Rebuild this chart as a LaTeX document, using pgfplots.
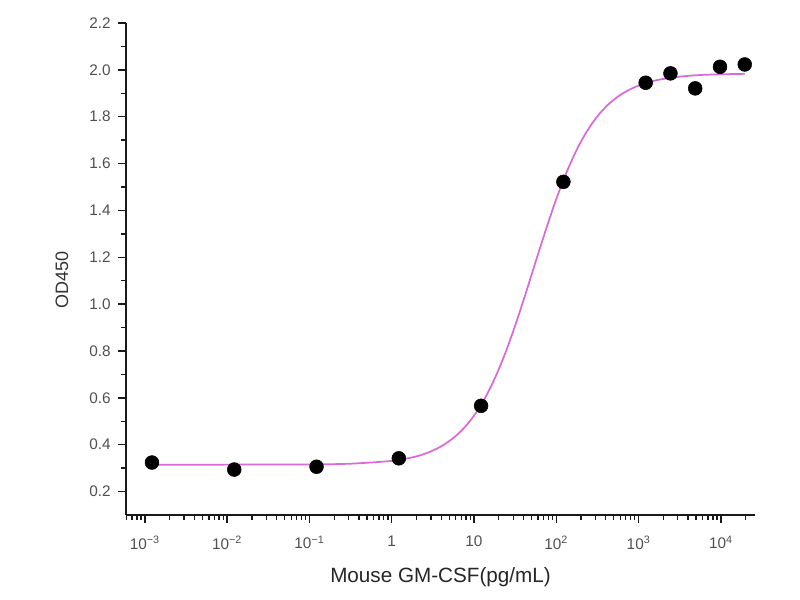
\documentclass[border=0pt]{standalone}
\usepackage{pgfplots}
\pgfplotsset{compat=1.18}
\usepackage{fontspec}
\setmainfont{Liberation Sans}
\definecolor{fitpink}{RGB}{218,105,218}
\definecolor{ticktext}{RGB}{80,80,80}

\pgfplotstableread{
conc   od
0.00122 0.324
0.0122  0.294
0.122   0.306
1.22    0.342
12.2    0.566
122     1.522
1220    1.945
2440    1.985
4880    1.921
9760    2.013
19520   2.023
}\measured

\pgfplotstableread{
conc    od
0.00122 0.315
0.01    0.315
0.1     0.316
0.3162  0.319
1       0.331
1.778   0.346
2.371   0.358
3.162   0.375
4.217   0.398
5.623   0.429
7.499   0.470
10      0.524
13.34   0.594
17.78   0.681
23.71   0.786
31.62   0.908
42.17   1.042
56.23   1.182
74.99   1.319
100     1.449
133.4   1.563
177.8   1.660
237.1   1.739
316.2   1.802
421.7   1.850
562.3   1.886
749.9   1.913
1000    1.933
1334    1.947
1778    1.958
3162    1.971
5623    1.978
10000   1.981
19520   1.983
}\fitted

\begin{document}
\begin{tikzpicture}
\useasboundingbox (-94.5pt,-63.75pt) rectangle (505.5pt,386.25pt);
\begin{axis}[
  at={(0pt,0pt)}, anchor=south west,
  scale only axis, width=471.75pt, height=369pt,
  xmode=log, log basis x=10,
  xmin=5.9e-4, xmax=2.6e4,
  ymin=0.1, ymax=2.2,
  axis x line*=bottom, axis y line*=left,
  axis line style={line width=1.4pt, black!90, -},
  tick align=outside,
  major tick length=6pt, minor tick length=3.5pt,
  tick style={line width=1pt, black!90},
  xtick={1e-3,1e-2,0.1,1,10,100,1000,10000},
  xticklabels={10\textsuperscript{−3},10\textsuperscript{−2},10\textsuperscript{−1},1,10,10\textsuperscript{2},10\textsuperscript{3},10\textsuperscript{4}},
  minor xtick={6e-4,7e-4,8e-4,9e-4,
    2e-3,3e-3,4e-3,5e-3,6e-3,7e-3,8e-3,9e-3,
    0.02,0.03,0.04,0.05,0.06,0.07,0.08,0.09,
    0.2,0.3,0.4,0.5,0.6,0.7,0.8,0.9,
    2,3,4,5,6,7,8,9,
    20,30,40,50,60,70,80,90,
    200,300,400,500,600,700,800,900,
    2000,3000,4000,5000,6000,7000,8000,9000,20000},
  ytick={0.2,0.4,0.6,0.8,1.0,1.2,1.4,1.6,1.8,2.0,2.2},
  minor ytick={0.3,0.5,0.7,0.9,1.1,1.3,1.5,1.7,1.9,2.1},
  /pgf/number format/assume math mode=true,
  yticklabel style={xshift=-2pt, /pgf/number format/fixed, /pgf/number format/fixed zerofill, /pgf/number format/precision=1},
  ticklabel style={font=\fontsize{11.5}{13}\selectfont, text=ticktext},
  xticklabel style={yshift=-6pt},
  xlabel={Mouse GM-CSF(pg/mL)},
  ylabel={OD450},
  xlabel style={at={(axis description cs:0.5,-0.126)}, anchor=center, font=\fontsize{15.5}{18}\selectfont, text=black!85},
  ylabel style={at={(axis description cs:-0.1017,0.478)}, anchor=center, font=\fontsize{13.5}{16}\selectfont, text=black!80},
  clip=false,
]
\addplot[fitpink, line width=1.3pt, smooth, no marks] table[x=conc, y=od] {\fitted};
\addplot[only marks, mark=*, mark size=5.2pt, mark options={fill=black, draw=black}] table[x=conc, y=od] {\measured};
\end{axis}
\end{tikzpicture}
\end{document}
